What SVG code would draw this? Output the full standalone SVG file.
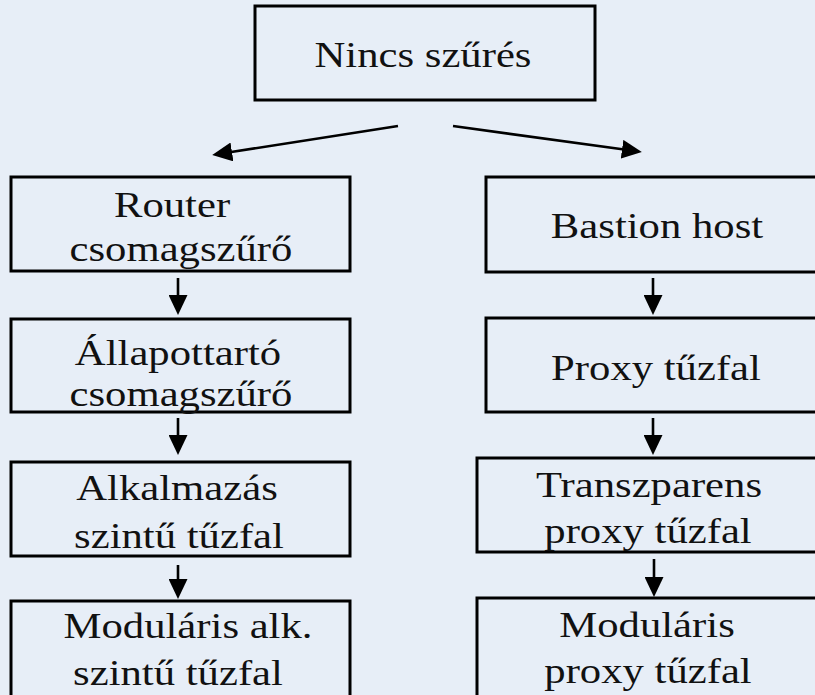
<svg xmlns="http://www.w3.org/2000/svg" width="815" height="695" viewBox="0 0 815 695">
<defs>
<style>
.box{fill:none;stroke:#000;stroke-width:3}
.t{font-family:"Liberation Serif","Times New Roman",serif;font-size:35px;fill:#111;text-anchor:middle}
.c{stroke:#000;stroke-width:2.6;fill:none;marker-end:url(#ah)}
</style>
<marker id="ah" markerUnits="userSpaceOnUse" markerWidth="20" markerHeight="19" refX="4" refY="9.5" orient="auto">
<path d="M0,0 L20,9.5 L0,19 Z" fill="#000"/>
</marker>
</defs>
<rect width="815" height="695" fill="#E7EEF7"/>
<g id="connectors">
<line class="c" x1="398" y1="126" x2="228" y2="152.5"/>
<line class="c" x1="453" y1="126" x2="626" y2="149.8"/>
<line class="c" x1="178" y1="278" x2="178" y2="299"/>
<line class="c" x1="178" y1="418" x2="178" y2="439"/>
<line class="c" x1="178" y1="565" x2="178" y2="583"/>
<line class="c" x1="653" y1="278" x2="653" y2="299"/>
<line class="c" x1="653" y1="418" x2="653" y2="439"/>
<line class="c" x1="654" y1="559" x2="654" y2="581"/>
</g>
<g id="n-nincs">
<rect class="box" x="255" y="6" width="340" height="94"/>
<text class="t" transform="translate(423,67) scale(1.22,1)">Nincs szűrés</text>
</g>
<g id="n-router">
<rect class="box" x="11" y="177" width="339" height="94"/>
<text class="t" transform="translate(172,217) scale(1.22,1)">Router</text>
<text class="t" transform="translate(181,261) scale(1.22,1)">csomagszűrő</text>
</g>
<g id="n-allapot">
<rect class="box" x="11" y="319" width="339" height="93"/>
<text class="t" transform="translate(178,365) scale(1.22,1)">Állapottartó</text>
<text class="t" transform="translate(181,406) scale(1.22,1)">csomagszűrő</text>
</g>
<g id="n-alkalmazas">
<rect class="box" x="11" y="462" width="339" height="94"/>
<text class="t" transform="translate(177,500) scale(1.22,1)">Alkalmazás</text>
<text class="t" transform="translate(179,548) scale(1.22,1)">szintű tűzfal</text>
</g>
<g id="n-modularis-alk">
<rect class="box" x="11" y="601" width="339" height="110"/>
<text class="t" transform="translate(188,638) scale(1.22,1)">Moduláris alk.</text>
<text class="t" transform="translate(178,685) scale(1.22,1)">szintű tűzfal</text>
</g>
<g id="n-bastion">
<rect class="box" x="486" y="177" width="345" height="95"/>
<text class="t" transform="translate(657,238) scale(1.22,1)">Bastion host</text>
</g>
<g id="n-proxy">
<rect class="box" x="486" y="318" width="345" height="94"/>
<text class="t" transform="translate(656,380) scale(1.22,1)">Proxy tűzfal</text>
</g>
<g id="n-transzparens">
<rect class="box" x="477" y="458" width="354" height="94"/>
<text class="t" transform="translate(649,497) scale(1.22,1)">Transzparens</text>
<text class="t" transform="translate(648,543) scale(1.22,1)">proxy tűzfal</text>
</g>
<g id="n-modularis-proxy">
<rect class="box" x="477" y="598" width="354" height="112"/>
<text class="t" transform="translate(647,637) scale(1.22,1)">Moduláris</text>
<text class="t" transform="translate(648,683) scale(1.22,1)">proxy tűzfal</text>
</g>
</svg>
